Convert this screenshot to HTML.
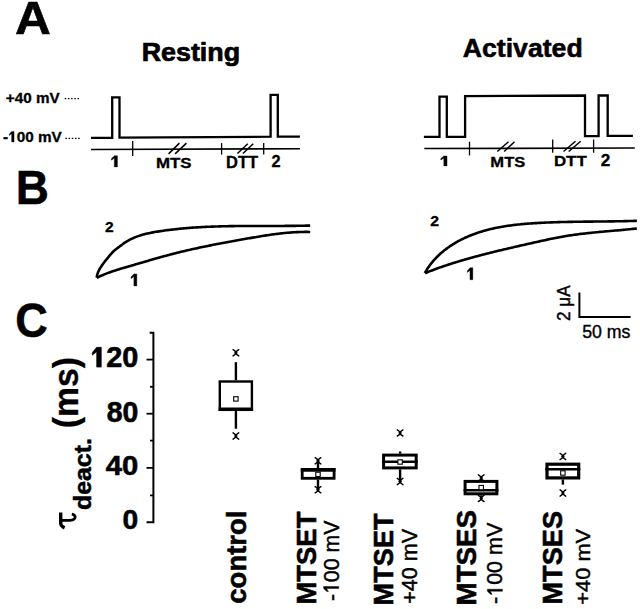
<!DOCTYPE html>
<html><head><meta charset="utf-8"><style>
html,body{margin:0;padding:0;background:#fff;}
body{width:640px;height:609px;overflow:hidden;}
svg{display:block;}
text{font-family:"Liberation Sans",sans-serif;fill:#000;font-kerning:none;}
</style></head><body>
<svg width="640" height="609" viewBox="0 0 640 609">
<g transform="translate(14.96 34.10) scale(1.0605 1)"><text font-size="46.80" font-weight="bold" stroke="#000" stroke-width="0.60" stroke-linejoin="round">A</text></g>
<g transform="translate(15.78 204.20) scale(0.9557 1)"><text font-size="48.04" font-weight="bold" stroke="#000" stroke-width="0.50" stroke-linejoin="round">B</text></g>
<g transform="translate(15.30 336.98) scale(0.9423 1)"><text font-size="47.88" font-weight="bold" stroke="#000" stroke-width="0.50" stroke-linejoin="round">C</text></g>
<g transform="translate(141.64 60.89) scale(1.0614 1)"><text font-size="25.32" font-weight="bold" stroke="#000" stroke-width="0.68" stroke-linejoin="round">Resting</text></g>
<g transform="translate(462.71 56.77) scale(1.0282 1)"><text font-size="25.94" font-weight="bold" stroke="#000" stroke-width="0.55" stroke-linejoin="round">Activated</text></g>
<g transform="translate(5.81 102.51) scale(1.0501 1)"><text font-size="14.55" font-weight="bold" stroke="#000" stroke-width="0.30" stroke-linejoin="round">+40 mV</text></g>
<g transform="translate(3.06 141.90) scale(1.0059 1)"><text font-size="15.24" font-weight="bold" stroke="#000" stroke-width="0.31" stroke-linejoin="round">- 00 mV</text><path d="M8.50 -10.48 L10.95 -10.48 L10.95 0.00 L8.50 0.00 L8.50 -8.11 L6.19 -6.32 L6.19 -7.66 Z " fill="#000" stroke="#000" stroke-width="0.31" stroke-linejoin="round"/></g>
<line x1="64.7" y1="98.6" x2="80.2" y2="98.6" stroke="#000" stroke-width="1.2" stroke-dasharray="1.5 1.7"/>
<line x1="65.4" y1="138.4" x2="80.2" y2="138.4" stroke="#000" stroke-width="1.2" stroke-dasharray="1.5 1.7"/>
<path d="M91 137.9 L112.2 137.9 L112.2 97.4 L119.5 97.4 L119.5 137.7 L270.6 136.7 L270.6 94.9 L277.8 94.9 L277.8 136.7 L299.9 136.7" fill="none" stroke="#000" stroke-width="2.3" stroke-linejoin="miter"/>
<path d="M423.9 136.9 L439.5 136.9 L439.5 96.7 L446.8 96.7 L446.8 136.9 L465.1 136.8 L465.1 96.2 L585 95.5 L585 136.1 L598.6 136.1 L598.6 95.5 L607.7 95.5 L607.7 135.9 L632.9 135.8" fill="none" stroke="#000" stroke-width="2.3" stroke-linejoin="miter"/>
<line x1="91" y1="149.5" x2="300" y2="148.7" stroke="#000" stroke-width="1.6"/>
<line x1="424.3" y1="148.5" x2="634.8" y2="148.0" stroke="#000" stroke-width="1.7"/>
<line x1="132.7" y1="140.9" x2="132.7" y2="155.9" stroke="#000" stroke-width="1.3"/>
<line x1="221.6" y1="143.1" x2="221.6" y2="154.6" stroke="#000" stroke-width="1.3"/>
<line x1="263.7" y1="143.1" x2="263.7" y2="154.6" stroke="#000" stroke-width="1.3"/>
<line x1="469.5" y1="141.7" x2="469.5" y2="155.4" stroke="#000" stroke-width="1.3"/>
<line x1="552.7" y1="139.5" x2="552.7" y2="152.7" stroke="#000" stroke-width="1.3"/>
<line x1="593.6" y1="139.5" x2="593.6" y2="152.7" stroke="#000" stroke-width="1.3"/>
<line x1="168.6" y1="153.9" x2="179.4" y2="143.1" stroke="#000" stroke-width="1.5"/>
<line x1="175.1" y1="153.9" x2="186.4" y2="143.1" stroke="#000" stroke-width="1.5"/>
<line x1="237.4" y1="153.5" x2="247.8" y2="143.7" stroke="#000" stroke-width="1.5"/>
<line x1="242.9" y1="153.5" x2="253.3" y2="143.7" stroke="#000" stroke-width="1.5"/>
<line x1="497.3" y1="151.5" x2="508.5" y2="141.7" stroke="#000" stroke-width="1.5"/>
<line x1="504.2" y1="151.5" x2="514.5" y2="141.7" stroke="#000" stroke-width="1.5"/>
<line x1="563.5" y1="151.5" x2="575.5" y2="141.2" stroke="#000" stroke-width="1.5"/>
<line x1="568.7" y1="151.5" x2="580.7" y2="141.2" stroke="#000" stroke-width="1.5"/>
<g transform="translate(109.94 166.94) scale(1.1862 1)"><text font-size="16.39" font-weight="bold" stroke="#000" stroke-width="0.32" stroke-linejoin="round"> </text><path d="M3.68 -11.28 L6.32 -11.28 L6.32 0.00 L3.68 0.00 L3.68 -8.72 L1.20 -6.80 L1.20 -8.24 Z " fill="#000" stroke="#000" stroke-width="0.32" stroke-linejoin="round"/></g>
<g transform="translate(155.93 167.69) scale(1.0894 1)"><text font-size="15.51" font-weight="bold" stroke="#000" stroke-width="0.32" stroke-linejoin="round">MTS</text></g>
<g transform="translate(226.06 167.53) scale(0.9755 1)"><text font-size="16.95" font-weight="bold" stroke="#000" stroke-width="0.34" stroke-linejoin="round">DTT</text></g>
<g transform="translate(271.50 166.53) scale(0.9694 1)"><text font-size="16.84" font-weight="bold" stroke="#000" stroke-width="0.34" stroke-linejoin="round">2</text></g>
<g transform="translate(439.26 165.96) scale(1.3879 1)"><text font-size="14.55" font-weight="bold" stroke="#000" stroke-width="0.29" stroke-linejoin="round"> </text><path d="M3.27 -10.01 L5.61 -10.01 L5.61 0.00 L3.27 0.00 L3.27 -7.74 L1.07 -6.04 L1.07 -7.32 Z " fill="#000" stroke="#000" stroke-width="0.29" stroke-linejoin="round"/></g>
<g transform="translate(490.35 166.69) scale(1.0765 1)"><text font-size="15.38" font-weight="bold" stroke="#000" stroke-width="0.31" stroke-linejoin="round">MTS</text></g>
<g transform="translate(553.92 165.95) scale(1.1166 1)"><text font-size="15.12" font-weight="bold" stroke="#000" stroke-width="0.30" stroke-linejoin="round">DTT</text></g>
<g transform="translate(600.87 165.93) scale(1.0275 1)"><text font-size="16.70" font-weight="bold" stroke="#000" stroke-width="0.34" stroke-linejoin="round">2</text></g>
<path d="M96.70 277.70 L96.88 276.21 L97.23 274.80 L97.67 273.42 L98.18 272.07 L98.78 270.74 L99.43 269.45 L100.15 268.17 L100.92 266.92 L101.74 265.68 L102.59 264.47 L103.48 263.27 L104.38 262.08 L105.30 260.91 L106.23 259.75 L107.17 258.60 L108.09 257.45 L109.01 256.32 L109.93 255.20 L110.87 254.10 L111.83 253.04 L112.82 252.01 L113.86 251.02 L114.95 250.08 L116.07 249.17 L117.23 248.28 L118.41 247.39 L119.60 246.51 L120.79 245.60 L121.99 244.69 L123.21 243.79 L124.43 242.93 L125.67 242.10 L126.93 241.32 L128.21 240.57 L129.50 239.87 L130.80 239.20 L132.12 238.57 L133.45 237.97 L134.79 237.40 L136.15 236.86 L137.51 236.36 L138.89 235.88 L140.28 235.43 L141.67 235.00 L143.08 234.60 L144.49 234.22 L145.91 233.86 L147.33 233.53 L148.77 233.21 L150.20 232.91 L151.65 232.62 L153.09 232.35 L154.54 232.09 L156.00 231.84 L157.45 231.60 L158.91 231.37 L160.37 231.15 L161.82 230.93 L163.28 230.72 L164.74 230.52 L166.20 230.32 L167.66 230.13 L169.12 229.94 L170.58 229.76 L172.04 229.59 L173.50 229.42 L174.97 229.25 L176.43 229.09 L177.89 228.94 L179.35 228.79 L180.82 228.65 L182.28 228.51 L183.74 228.37 L185.21 228.24 L186.67 228.12 L188.14 228.00 L189.60 227.88 L191.07 227.77 L192.54 227.67 L194.00 227.56 L195.47 227.47 L196.94 227.37 L198.40 227.28 L199.87 227.20 L201.34 227.11 L202.81 227.03 L204.28 226.96 L205.74 226.89 L207.21 226.82 L208.68 226.75 L210.15 226.69 L211.62 226.64 L213.09 226.58 L214.56 226.53 L216.03 226.48 L217.50 226.43 L218.97 226.39 L220.44 226.35 L221.91 226.31 L223.38 226.28 L224.86 226.24 L226.33 226.21 L227.80 226.18 L229.27 226.16 L230.74 226.13 L232.21 226.11 L233.69 226.09 L235.16 226.07 L236.63 226.05 L238.10 226.04 L239.57 226.03 L241.05 226.01 L242.52 226.00 L243.99 225.99 L245.46 225.99 L246.94 225.98 L248.41 225.97 L249.88 225.97 L251.35 225.97 L252.83 225.96 L254.30 225.96 L255.77 225.96 L257.24 225.96 L258.72 225.96 L260.19 225.96 L261.66 225.96 L263.13 225.96 L264.61 225.96 L266.08 225.96 L267.55 225.96 L269.02 225.96 L270.49 225.96 L271.97 225.96 L273.44 225.95 L274.91 225.95 L276.38 225.95 L277.85 225.95 L279.33 225.95 L280.80 225.94 L282.27 225.94 L283.74 225.93 L285.21 225.92 L286.68 225.91 L288.15 225.90 L289.62 225.89 L291.09 225.88 L292.56 225.87 L294.03 225.85 L295.50 225.83 L296.97 225.81 L298.44 225.79 L299.91 225.77 L301.38 225.75 L302.85 225.72 L304.31 225.69 L305.78 225.66 L307.25 225.62 L308.72 225.59 L310.18 225.55" fill="none" stroke="#000" stroke-width="2.6" stroke-linejoin="round"/>
<path d="M96.70 277.70 L97.99 277.21 L99.24 276.61 L100.50 276.03 L101.76 275.47 L103.03 274.93 L104.30 274.40 L105.58 273.89 L106.87 273.39 L108.15 272.90 L109.44 272.43 L110.74 271.97 L112.04 271.52 L113.34 271.08 L114.65 270.65 L115.95 270.23 L117.27 269.81 L118.58 269.41 L119.89 269.00 L121.21 268.61 L122.53 268.22 L123.85 267.83 L125.17 267.44 L126.50 267.06 L127.82 266.67 L129.14 266.29 L130.47 265.90 L131.79 265.52 L133.11 265.13 L134.44 264.75 L135.76 264.36 L137.09 263.97 L138.41 263.59 L139.73 263.20 L141.06 262.81 L142.38 262.43 L143.71 262.04 L145.03 261.65 L146.36 261.27 L147.69 260.89 L149.01 260.50 L150.34 260.12 L151.67 259.74 L152.99 259.36 L154.32 258.98 L155.65 258.60 L156.98 258.22 L158.31 257.85 L159.64 257.48 L160.97 257.11 L162.30 256.74 L163.63 256.37 L164.96 256.01 L166.29 255.65 L167.63 255.29 L168.96 254.93 L170.30 254.58 L171.63 254.23 L172.97 253.88 L174.30 253.53 L175.64 253.19 L176.98 252.85 L178.31 252.52 L179.65 252.19 L180.99 251.86 L182.33 251.54 L183.67 251.22 L185.01 250.90 L186.36 250.58 L187.70 250.27 L189.04 249.96 L190.39 249.66 L191.73 249.35 L193.08 249.05 L194.42 248.75 L195.77 248.46 L197.11 248.17 L198.46 247.88 L199.81 247.59 L201.16 247.30 L202.51 247.02 L203.85 246.74 L205.20 246.46 L206.55 246.18 L207.91 245.91 L209.26 245.64 L210.61 245.37 L211.96 245.10 L213.31 244.83 L214.66 244.57 L216.02 244.30 L217.37 244.04 L218.73 243.78 L220.08 243.52 L221.43 243.27 L222.79 243.01 L224.14 242.76 L225.50 242.51 L226.86 242.25 L228.21 242.00 L229.57 241.75 L230.92 241.51 L232.28 241.26 L233.64 241.01 L235.00 240.77 L236.35 240.52 L237.71 240.28 L239.07 240.03 L240.43 239.79 L241.78 239.55 L243.14 239.31 L244.50 239.07 L245.86 238.82 L247.22 238.58 L248.58 238.34 L249.94 238.10 L251.30 237.87 L252.66 237.63 L254.02 237.39 L255.38 237.16 L256.74 236.93 L258.10 236.70 L259.46 236.47 L260.82 236.25 L262.18 236.03 L263.54 235.81 L264.91 235.60 L266.27 235.38 L267.63 235.18 L268.99 234.97 L270.36 234.78 L271.72 234.58 L273.09 234.39 L274.45 234.21 L275.82 234.03 L277.19 233.86 L278.55 233.69 L279.92 233.53 L281.29 233.37 L282.66 233.22 L284.03 233.08 L285.40 232.95 L286.77 232.82 L288.14 232.70 L289.51 232.59 L290.89 232.48 L292.26 232.38 L293.64 232.30 L295.01 232.22 L296.39 232.14 L297.77 232.08 L299.14 232.03 L300.52 231.99 L301.90 231.95 L303.28 231.93 L304.67 231.91 L306.05 231.91 L307.43 231.92 L308.82 231.94 L310.20 231.97" fill="none" stroke="#000" stroke-width="2.6" stroke-linejoin="round"/>
<path d="M424.90 273.10 L425.47 271.84 L426.23 270.58 L427.02 269.33 L427.82 268.11 L428.65 266.91 L429.50 265.73 L430.36 264.56 L431.25 263.42 L432.15 262.30 L433.08 261.20 L434.02 260.12 L434.98 259.05 L435.96 258.01 L436.96 256.98 L437.97 255.98 L439.00 254.99 L440.04 254.03 L441.10 253.08 L442.18 252.15 L443.27 251.23 L444.38 250.34 L445.50 249.46 L446.64 248.61 L447.78 247.77 L448.95 246.94 L450.12 246.14 L451.31 245.35 L452.51 244.58 L453.72 243.82 L454.94 243.09 L456.18 242.37 L457.42 241.66 L458.68 240.98 L459.94 240.31 L461.21 239.65 L462.50 239.01 L463.79 238.39 L465.09 237.78 L466.40 237.19 L467.72 236.61 L469.04 236.05 L470.37 235.50 L471.71 234.97 L473.05 234.46 L474.40 233.96 L475.76 233.47 L477.12 232.99 L478.48 232.54 L479.85 232.09 L481.23 231.66 L482.61 231.24 L483.99 230.84 L485.37 230.45 L486.76 230.07 L488.15 229.71 L489.54 229.36 L490.93 229.02 L492.33 228.69 L493.73 228.38 L495.13 228.08 L496.53 227.78 L497.94 227.50 L499.35 227.23 L500.76 226.97 L502.17 226.72 L503.58 226.48 L505.00 226.25 L506.41 226.03 L507.83 225.82 L509.25 225.62 L510.67 225.43 L512.10 225.24 L513.52 225.06 L514.95 224.89 L516.37 224.73 L517.80 224.58 L519.23 224.43 L520.66 224.29 L522.09 224.15 L523.52 224.02 L524.95 223.90 L526.38 223.78 L527.82 223.67 L529.25 223.56 L530.68 223.46 L532.12 223.36 L533.55 223.26 L534.99 223.17 L536.42 223.09 L537.85 223.00 L539.29 222.92 L540.72 222.85 L542.16 222.77 L543.59 222.70 L545.03 222.63 L546.46 222.57 L547.89 222.51 L549.33 222.45 L550.76 222.39 L552.20 222.34 L553.63 222.29 L555.07 222.24 L556.50 222.20 L557.94 222.15 L559.37 222.11 L560.81 222.07 L562.24 222.04 L563.68 222.00 L565.11 221.97 L566.55 221.94 L567.98 221.91 L569.42 221.88 L570.85 221.85 L572.29 221.83 L573.72 221.80 L575.16 221.78 L576.59 221.76 L578.03 221.74 L579.46 221.72 L580.90 221.70 L582.33 221.68 L583.77 221.67 L585.21 221.65 L586.64 221.63 L588.08 221.62 L589.51 221.61 L590.95 221.59 L592.38 221.58 L593.82 221.56 L595.25 221.55 L596.69 221.53 L598.13 221.52 L599.56 221.51 L601.00 221.49 L602.43 221.48 L603.87 221.46 L605.30 221.45 L606.74 221.43 L608.18 221.41 L609.61 221.39 L611.05 221.38 L612.48 221.36 L613.92 221.33 L615.36 221.31 L616.79 221.29 L618.23 221.26 L619.66 221.24 L621.10 221.21 L622.54 221.18 L623.97 221.15 L625.41 221.12 L626.85 221.08 L628.28 221.05 L629.72 221.01 L631.15 220.97 L632.59 220.93 L634.03 220.88 L635.46 220.83 L636.90 220.78" fill="none" stroke="#000" stroke-width="2.6" stroke-linejoin="round"/>
<path d="M424.90 273.10 L426.20 272.68 L427.46 272.17 L428.73 271.66 L429.99 271.16 L431.26 270.67 L432.54 270.18 L433.81 269.70 L435.09 269.22 L436.37 268.75 L437.66 268.29 L438.94 267.83 L440.23 267.38 L441.52 266.93 L442.81 266.48 L444.10 266.04 L445.40 265.61 L446.70 265.18 L448.00 264.75 L449.30 264.33 L450.60 263.91 L451.90 263.50 L453.21 263.09 L454.51 262.68 L455.82 262.28 L457.13 261.88 L458.44 261.48 L459.75 261.09 L461.06 260.70 L462.38 260.31 L463.69 259.93 L465.00 259.55 L466.32 259.17 L467.64 258.80 L468.95 258.43 L470.27 258.06 L471.59 257.70 L472.91 257.33 L474.23 256.97 L475.55 256.61 L476.87 256.26 L478.19 255.91 L479.52 255.55 L480.84 255.21 L482.16 254.86 L483.48 254.52 L484.81 254.17 L486.13 253.83 L487.46 253.50 L488.78 253.16 L490.11 252.83 L491.44 252.50 L492.76 252.17 L494.09 251.84 L495.42 251.51 L496.75 251.19 L498.08 250.86 L499.41 250.54 L500.73 250.22 L502.06 249.90 L503.39 249.59 L504.73 249.27 L506.06 248.96 L507.39 248.64 L508.72 248.33 L510.05 248.02 L511.38 247.71 L512.71 247.40 L514.05 247.10 L515.38 246.79 L516.71 246.49 L518.05 246.18 L519.38 245.88 L520.71 245.58 L522.05 245.27 L523.38 244.97 L524.72 244.67 L526.05 244.37 L527.38 244.07 L528.72 243.77 L530.05 243.47 L531.39 243.18 L532.72 242.88 L534.06 242.58 L535.39 242.28 L536.73 241.99 L538.06 241.69 L539.40 241.39 L540.73 241.09 L542.07 240.80 L543.40 240.50 L544.74 240.21 L546.07 239.91 L547.41 239.62 L548.75 239.33 L550.08 239.05 L551.42 238.77 L552.76 238.49 L554.10 238.21 L555.44 237.94 L556.78 237.68 L558.12 237.42 L559.46 237.17 L560.81 236.93 L562.15 236.69 L563.50 236.45 L564.84 236.23 L566.19 236.00 L567.54 235.79 L568.89 235.58 L570.24 235.37 L571.59 235.17 L572.94 234.98 L574.30 234.79 L575.65 234.61 L577.00 234.43 L578.36 234.25 L579.72 234.08 L581.07 233.91 L582.43 233.75 L583.79 233.59 L585.14 233.43 L586.50 233.28 L587.86 233.13 L589.22 232.99 L590.58 232.84 L591.94 232.70 L593.30 232.57 L594.67 232.43 L596.03 232.30 L597.39 232.17 L598.75 232.04 L600.11 231.91 L601.48 231.79 L602.84 231.67 L604.20 231.54 L605.57 231.42 L606.93 231.30 L608.29 231.18 L609.66 231.06 L611.02 230.94 L612.38 230.82 L613.75 230.70 L615.11 230.58 L616.47 230.46 L617.84 230.34 L619.20 230.22 L620.56 230.09 L621.92 229.97 L623.29 229.84 L624.65 229.71 L626.01 229.58 L627.37 229.45 L628.73 229.32 L630.09 229.18 L631.45 229.04 L632.81 228.90 L634.17 228.75 L635.53 228.60 L636.88 228.45" fill="none" stroke="#000" stroke-width="2.6" stroke-linejoin="round"/>
<g transform="translate(105.11 232.45) scale(1.0666 1)"><text font-size="14.62" font-weight="bold" stroke="#000" stroke-width="0.29" stroke-linejoin="round">2</text></g>
<g transform="translate(129.73 285.93) scale(1.0508 1)"><text font-size="17.52" font-weight="bold" stroke="#000" stroke-width="0.35" stroke-linejoin="round"> </text><path d="M3.93 -12.05 L6.76 -12.05 L6.76 0.00 L3.93 0.00 L3.93 -9.32 L1.28 -7.27 L1.28 -8.81 Z " fill="#000" stroke="#000" stroke-width="0.35" stroke-linejoin="round"/></g>
<g transform="translate(430.19 225.56) scale(1.1139 1)"><text font-size="14.20" font-weight="bold" stroke="#000" stroke-width="0.29" stroke-linejoin="round">2</text></g>
<g transform="translate(465.97 279.73) scale(1.0143 1)"><text font-size="17.52" font-weight="bold" stroke="#000" stroke-width="0.35" stroke-linejoin="round"> </text><path d="M3.93 -12.05 L6.76 -12.05 L6.76 0.00 L3.93 0.00 L3.93 -9.32 L1.28 -7.27 L1.28 -8.81 Z " fill="#000" stroke="#000" stroke-width="0.35" stroke-linejoin="round"/></g>
<path d="M579.4 292.6 L579.4 317.1 L630.6 317.1" fill="none" stroke="#000" stroke-width="2.0"/>
<g transform="translate(569.97 320.93) rotate(-90) scale(0.9379 1)"><text font-size="18.24" font-weight="normal" stroke="#000" stroke-width="0.47" stroke-linejoin="round">2 μA</text></g>
<g transform="translate(582.18 337.83) scale(0.9494 1)"><text font-size="18.67" font-weight="normal" stroke="#000" stroke-width="0.38" stroke-linejoin="round">50 ms</text></g>
<path d="M149.7 332.8 L153.4 332.8 L153.4 522.3 L146.5 522.3" fill="none" stroke="#000" stroke-width="2.0"/>
<line x1="146.5" y1="359.6" x2="153.4" y2="359.6" stroke="#000" stroke-width="1.8"/>
<line x1="146.5" y1="413.7" x2="153.4" y2="413.7" stroke="#000" stroke-width="1.8"/>
<line x1="146.5" y1="467.9" x2="153.4" y2="467.9" stroke="#000" stroke-width="1.8"/>
<line x1="150" y1="386.8" x2="153.4" y2="386.8" stroke="#000" stroke-width="1.8"/>
<line x1="150" y1="440.6" x2="153.4" y2="440.6" stroke="#000" stroke-width="1.8"/>
<line x1="150" y1="495.4" x2="153.4" y2="495.4" stroke="#000" stroke-width="1.8"/>
<g transform="translate(90.18 367.12) scale(1.0001 1)"><text font-size="28.83" font-weight="bold" stroke="#000" stroke-width="0.59" stroke-linejoin="round"> 20</text><path d="M6.48 -19.83 L11.12 -19.83 L11.12 0.00 L6.48 0.00 L6.48 -15.34 L2.11 -11.97 L2.11 -14.50 Z " fill="#000" stroke="#000" stroke-width="0.59" stroke-linejoin="round"/></g>
<g transform="translate(106.69 421.83) scale(0.9895 1)"><text font-size="28.69" font-weight="bold" stroke="#000" stroke-width="0.59" stroke-linejoin="round">80</text></g>
<g transform="translate(105.84 475.25) scale(1.0528 1)"><text font-size="27.73" font-weight="bold" stroke="#000" stroke-width="0.57" stroke-linejoin="round">40</text></g>
<g transform="translate(122.57 529.05) scale(1.0186 1)"><text font-size="27.73" font-weight="bold" stroke="#000" stroke-width="0.57" stroke-linejoin="round">0</text></g>
<g transform="translate(78.31 428.33) rotate(-90) scale(0.9695 1)"><text font-size="34.87" font-weight="bold" stroke="#000" stroke-width="0.30" stroke-linejoin="round">(ms)</text></g>
<g transform="translate(90.91 510.07) rotate(-90) scale(1.0403 1)"><text font-size="23.96" font-weight="bold" stroke="#000" stroke-width="0.51" stroke-linejoin="round">deact.</text></g>
<path d="M60.7 512.4 L60.7 523.5 Q60.9 526.3 64.6 527.9" fill="none" stroke="#000" stroke-width="3.4"/>
<path d="M61.5 520.4 L70 520.3 Q75.2 519.8 75.2 517 Q74.8 514.6 71.8 514.1" fill="none" stroke="#000" stroke-width="2.8"/>
<line x1="235.90" y1="362.20" x2="235.90" y2="380.30" stroke="#000" stroke-width="2.4"/><line x1="235.90" y1="411.05" x2="235.90" y2="428.70" stroke="#000" stroke-width="2.4"/><rect x="219.80" y="381.50" width="32.10" height="28.35" fill="#fff" stroke="#000" stroke-width="2.40"/><line x1="218.60" y1="409.20" x2="253.10" y2="409.20" stroke="#000" stroke-width="3.60"/><rect x="233.70" y="396.70" width="4.4" height="4.4" fill="#fff" stroke="#000" stroke-width="1.1"/><path d="M233.10 349.70 Q238.50 352.80 233.10 355.90 M238.70 349.70 Q233.30 352.80 238.70 355.90" stroke="#000" stroke-width="1.50" fill="none" stroke-linecap="round"/><line x1="234.30" y1="352.80" x2="237.50" y2="352.80" stroke="#000" stroke-width="1.2"/><path d="M233.10 432.90 Q238.50 436.00 233.10 439.10 M238.70 432.90 Q233.30 436.00 238.70 439.10" stroke="#000" stroke-width="1.50" fill="none" stroke-linecap="round"/><line x1="234.30" y1="436.00" x2="237.50" y2="436.00" stroke="#000" stroke-width="1.2"/>
<line x1="318.00" y1="460.80" x2="318.00" y2="468.10" stroke="#000" stroke-width="2.4"/><line x1="318.00" y1="479.70" x2="318.00" y2="489.70" stroke="#000" stroke-width="2.4"/><rect x="302.20" y="469.50" width="31.90" height="8.80" fill="#fff" stroke="#000" stroke-width="2.80"/><line x1="300.80" y1="469.90" x2="335.50" y2="469.90" stroke="#000" stroke-width="3.60"/><rect x="315.80" y="472.20" width="4.4" height="4.4" fill="#fff" stroke="#000" stroke-width="1.1"/><path d="M315.20 457.70 Q320.60 460.80 315.20 463.90 M320.80 457.70 Q315.40 460.80 320.80 463.90" stroke="#000" stroke-width="1.50" fill="none" stroke-linecap="round"/><line x1="316.40" y1="460.80" x2="319.60" y2="460.80" stroke="#000" stroke-width="1.2"/><path d="M315.20 486.60 Q320.60 489.70 315.20 492.80 M320.80 486.60 Q315.40 489.70 320.80 492.80" stroke="#000" stroke-width="1.50" fill="none" stroke-linecap="round"/><line x1="316.40" y1="489.70" x2="319.60" y2="489.70" stroke="#000" stroke-width="1.2"/>
<line x1="400.10" y1="451.50" x2="400.10" y2="453.60" stroke="#000" stroke-width="2.4"/><line x1="400.10" y1="469.40" x2="400.10" y2="481.50" stroke="#000" stroke-width="2.4"/><rect x="383.60" y="455.10" width="32.60" height="12.80" fill="#fff" stroke="#000" stroke-width="3.00"/><line x1="382.10" y1="461.75" x2="417.70" y2="461.75" stroke="#000" stroke-width="2.50"/><rect x="397.90" y="459.80" width="4.4" height="4.4" fill="#fff" stroke="#000" stroke-width="1.1"/><path d="M397.30 429.80 Q402.70 432.90 397.30 436.00 M402.90 429.80 Q397.50 432.90 402.90 436.00" stroke="#000" stroke-width="1.50" fill="none" stroke-linecap="round"/><line x1="398.50" y1="432.90" x2="401.70" y2="432.90" stroke="#000" stroke-width="1.2"/><path d="M397.30 478.40 Q402.70 481.50 397.30 484.60 M402.90 478.40 Q397.50 481.50 402.90 484.60" stroke="#000" stroke-width="1.50" fill="none" stroke-linecap="round"/><line x1="398.50" y1="481.50" x2="401.70" y2="481.50" stroke="#000" stroke-width="1.2"/>
<line x1="481.20" y1="477.90" x2="481.20" y2="479.90" stroke="#000" stroke-width="2.4"/><line x1="481.20" y1="495.30" x2="481.20" y2="498.40" stroke="#000" stroke-width="2.4"/><rect x="465.10" y="481.40" width="31.80" height="12.40" fill="#fff" stroke="#000" stroke-width="3.00"/><line x1="463.60" y1="490.25" x2="498.40" y2="490.25" stroke="#000" stroke-width="2.30"/><rect x="479.00" y="485.40" width="4.4" height="4.4" fill="#fff" stroke="#000" stroke-width="1.1"/><path d="M478.40 474.80 Q483.80 477.90 478.40 481.00 M484.00 474.80 Q478.60 477.90 484.00 481.00" stroke="#000" stroke-width="1.50" fill="none" stroke-linecap="round"/><line x1="479.60" y1="477.90" x2="482.80" y2="477.90" stroke="#000" stroke-width="1.2"/><path d="M478.40 495.30 Q483.80 498.40 478.40 501.50 M484.00 495.30 Q478.60 498.40 484.00 501.50" stroke="#000" stroke-width="1.50" fill="none" stroke-linecap="round"/><line x1="479.60" y1="498.40" x2="482.80" y2="498.40" stroke="#000" stroke-width="1.2"/>
<line x1="562.90" y1="462.60" x2="562.90" y2="462.60" stroke="#000" stroke-width="2.4"/><line x1="562.90" y1="479.50" x2="562.90" y2="484.60" stroke="#000" stroke-width="2.4"/><rect x="547.00" y="464.20" width="31.70" height="13.70" fill="#fff" stroke="#000" stroke-width="3.20"/><line x1="545.40" y1="469.25" x2="580.30" y2="469.25" stroke="#000" stroke-width="2.50"/><rect x="560.70" y="470.80" width="4.4" height="4.4" fill="#fff" stroke="#000" stroke-width="1.1"/><path d="M560.10 453.40 Q565.50 456.50 560.10 459.60 M565.70 453.40 Q560.30 456.50 565.70 459.60" stroke="#000" stroke-width="1.50" fill="none" stroke-linecap="round"/><line x1="561.30" y1="456.50" x2="564.50" y2="456.50" stroke="#000" stroke-width="1.2"/><path d="M560.10 489.90 Q565.50 493.00 560.10 496.10 M565.70 489.90 Q560.30 493.00 565.70 496.10" stroke="#000" stroke-width="1.50" fill="none" stroke-linecap="round"/><line x1="561.30" y1="493.00" x2="564.50" y2="493.00" stroke="#000" stroke-width="1.2"/>
<g transform="translate(245.72 603.67) rotate(-90) scale(0.9656 1)"><text font-size="28.46" font-weight="bold" stroke="#000" stroke-width="0.60" stroke-linejoin="round">control</text></g>
<g transform="translate(316.24 604.45) rotate(-90) scale(0.9736 1)"><text font-size="28.14" font-weight="bold" stroke="#000" stroke-width="0.57" stroke-linejoin="round">MTSET</text></g>
<g transform="translate(338.76 601.12) rotate(-90) scale(0.9720 1)"><text font-size="21.97" font-weight="normal" stroke="#000" stroke-width="0.45" stroke-linejoin="round">- 00 mV</text><path d="M13.00 -15.11 L15.04 -15.11 L15.04 0.00 L13.00 0.00 L13.00 -12.23 L9.78 -10.30 L9.78 -11.91 Z " fill="#000" stroke="#000" stroke-width="0.45" stroke-linejoin="round"/></g>
<g transform="translate(393.14 605.43) rotate(-90) scale(0.9603 1)"><text font-size="28.28" font-weight="bold" stroke="#000" stroke-width="0.58" stroke-linejoin="round">MTSET</text></g>
<g transform="translate(416.56 603.83) rotate(-90) scale(0.9706 1)"><text font-size="22.24" font-weight="normal" stroke="#000" stroke-width="0.45" stroke-linejoin="round">+40 mV</text></g>
<g transform="translate(476.34 605.47) rotate(-90) scale(0.9809 1)"><text font-size="28.28" font-weight="bold" stroke="#000" stroke-width="0.58" stroke-linejoin="round">MTSES</text></g>
<g transform="translate(502.46 603.93) rotate(-90) scale(0.9781 1)"><text font-size="21.97" font-weight="normal" stroke="#000" stroke-width="0.45" stroke-linejoin="round">- 00 mV</text><path d="M13.00 -15.11 L15.04 -15.11 L15.04 0.00 L13.00 0.00 L13.00 -12.23 L9.78 -10.30 L9.78 -11.91 Z " fill="#000" stroke="#000" stroke-width="0.45" stroke-linejoin="round"/></g>
<g transform="translate(562.24 604.53) rotate(-90) scale(0.9618 1)"><text font-size="28.28" font-weight="bold" stroke="#000" stroke-width="0.58" stroke-linejoin="round">MTSES</text></g>
<g transform="translate(590.08 604.75) rotate(-90) scale(1.0475 1)"><text font-size="20.87" font-weight="normal" stroke="#000" stroke-width="0.43" stroke-linejoin="round">+40 mV</text></g>
</svg>
</body></html>
